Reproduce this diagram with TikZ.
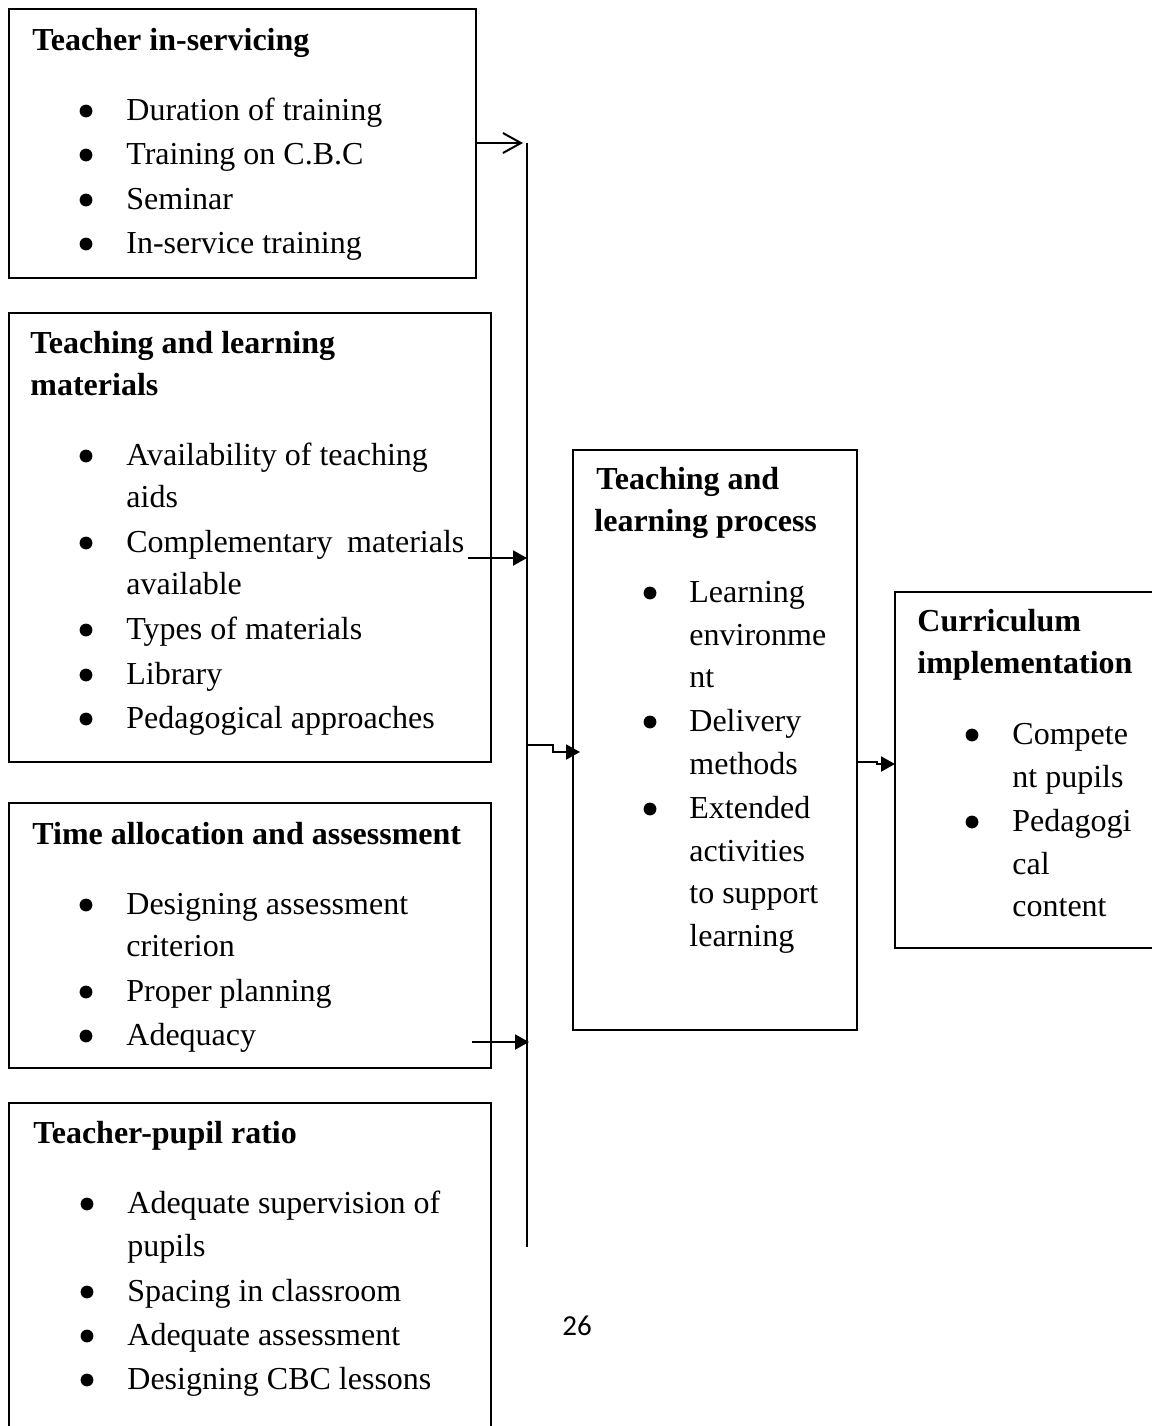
\documentclass[tikz,border=0pt]{standalone}
\usepackage{fontspec}
\setmainfont{Liberation Serif}
\newfontfamily\numfont{Carlito}
\usetikzlibrary{arrows.meta}
\tikzset{
  txt/.style={anchor=base west, inner sep=0pt, font=\fontsize{16}{22}\selectfont},
  ttl/.style={anchor=base west, inner sep=0pt, font=\fontsize{16}{22}\selectfont\bfseries},
  box/.style={draw, line width=1pt, anchor=north west, inner sep=0pt, outer sep=0pt},
  conn/.style={line width=1pt},
  fillarrow/.style={conn, -{Triangle[length=7pt,width=7.5pt]}},
  openarrow/.style={conn, -{Straight Barb[length=9pt,width=10pt,line width=1pt]}},
}
\begin{document}
\begin{tikzpicture}[x=0.5pt,y=-0.5pt]
\useasboundingbox (0,0) rectangle (1152,1426);
\clip (0,0) rectangle (1152,1426);
\fill[white] (0,0) rectangle (1152,1426);

% boxes
\node[box, minimum width=233.5pt, minimum height=134.5pt] (b1) at (9,9) {};
\node[box, minimum width=241pt, minimum height=224.5pt] (b2) at (9,313) {};
\node[box, minimum width=241pt, minimum height=132.5pt] (b3) at (9,803) {};
\node[box, minimum width=241pt, minimum height=190pt] (b4) at (9,1103) {};
\node[box, minimum width=142pt, minimum height=290pt] (b5) at (573,450) {};
\node[box, minimum width=140pt, minimum height=178pt] (b6) at (895,592) {};

% box 1
\node[ttl] (t1) at (32,50) {Teacher in-servicing};
\node[txt] (i11) at (126,120) {Duration of training};
\node[txt] (i12) at (126,164) {Training on C.B.C};
\node[txt] (i13) at (126,209) {Seminar};
\node[txt] (i14) at (126,253) {In-service training};
\foreach \y in {120,164,209,253} \fill (86,\y-9) circle[radius=3.2pt];

% box 2
\node[ttl] (t2a) at (30,353) {Teaching and learning};
\node[ttl] (t2b) at (30,395) {materials};
\node[txt] (i21) at (126,465) {Availability of teaching};
\node[txt] (i22) at (126,507) {aids};
\node[txt] (i23) at (126,552) {\makebox[169pt][s]{Complementary materials}};
\node[txt] (i24) at (126,594) {available};
\node[txt] (i25) at (126,639) {Types of materials};
\node[txt] (i26) at (126,684) {Library};
\node[txt] (i27) at (126,728) {Pedagogical approaches};
\foreach \y in {465,552,639,684,728} \fill (86,\y-9) circle[radius=3.2pt];

% box 3
\node[ttl] (t3) at (32,844) {Time allocation and assessment};
\node[txt] (i31) at (126,914) {Designing assessment};
\node[txt] (i32) at (126,956) {criterion};
\node[txt] (i33) at (126,1001) {Proper planning};
\node[txt] (i34) at (126,1045) {Adequacy};
\foreach \y in {914,1001,1045} \fill (86,\y-9) circle[radius=3.2pt];

% box 4
\node[ttl] (t4) at (33,1143) {Teacher-pupil ratio};
\node[txt] (i41) at (127,1213) {Adequate supervision of};
\node[txt] (i42) at (127,1256) {pupils};
\node[txt] (i43) at (127,1301) {Spacing in classroom};
\node[txt] (i44) at (127,1345) {Adequate assessment};
\node[txt] (i45) at (127,1389) {Designing CBC lessons};
\foreach \y in {1213,1301,1345,1389} \fill (87,\y-9) circle[radius=3.2pt];

% box 5
\node[ttl] (t5a) at (596,489) {Teaching and};
\node[ttl] (t5b) at (594,531) {learning process};
\node[txt] (i51) at (689,602) {Learning};
\node[txt] (i52) at (689,645) {environme};
\node[txt] (i53) at (689,687) {nt};
\node[txt] (i54) at (689,731) {Delivery};
\node[txt] (i55) at (689,774) {methods};
\node[txt] (i56) at (689,818) {Extended};
\node[txt] (i57) at (689,861) {activities};
\node[txt] (i58) at (689,903) {to support};
\node[txt] (i59) at (689,946) {learning};
\foreach \y in {602,731,818} \fill (650,\y-9) circle[radius=3.2pt];

% box 6
\node[ttl] (t6a) at (917,631) {Curriculum};
\node[ttl] (t6b) at (917,673) {implementation};
\node[txt] (i61) at (1012,744) {Compete};
\node[txt] (i62) at (1012,787) {nt pupils};
\node[txt] (i63) at (1012,831) {Pedagogi};
\node[txt] (i64) at (1012,874) {cal};
\node[txt] (i65) at (1012,916) {content};
\foreach \y in {744,831} \fill (972,\y-9) circle[radius=3.2pt];

% connectors
\coordinate (bustop) at (527,143);
\coordinate (busbot) at (527,1247);
\draw[conn] (bustop) -- (busbot);
\draw[openarrow, shorten >=2pt] (b1.east |- bustop) -- (bustop);
\coordinate (a2) at (468,558);
\draw[fillarrow] (a2) -- (a2 -| bustop);
\coordinate (a3s) at (bustop |- 0,745);
\coordinate (a3k) at (553,745);
\draw[fillarrow, shorten >=-3.5pt] (a3s) -- (a3k) -- (a3k |- 0,752) -- (b5.west |- 0,752);
\coordinate (a4k) at (877,762);
\draw[fillarrow] (b5.east |- a4k) -- (a4k) -- (a4k |- 0,764) -- (b6.west |- 0,764);
\coordinate (a5) at (472,1042);
\draw[fillarrow, shorten >=-1pt] (a5) -- (a5 -| bustop);

\node[anchor=base, inner sep=0pt, font=\numfont\fontsize{14.5}{17}\selectfont] (pg) at (577,1335) {26};
\end{tikzpicture}
\end{document}
